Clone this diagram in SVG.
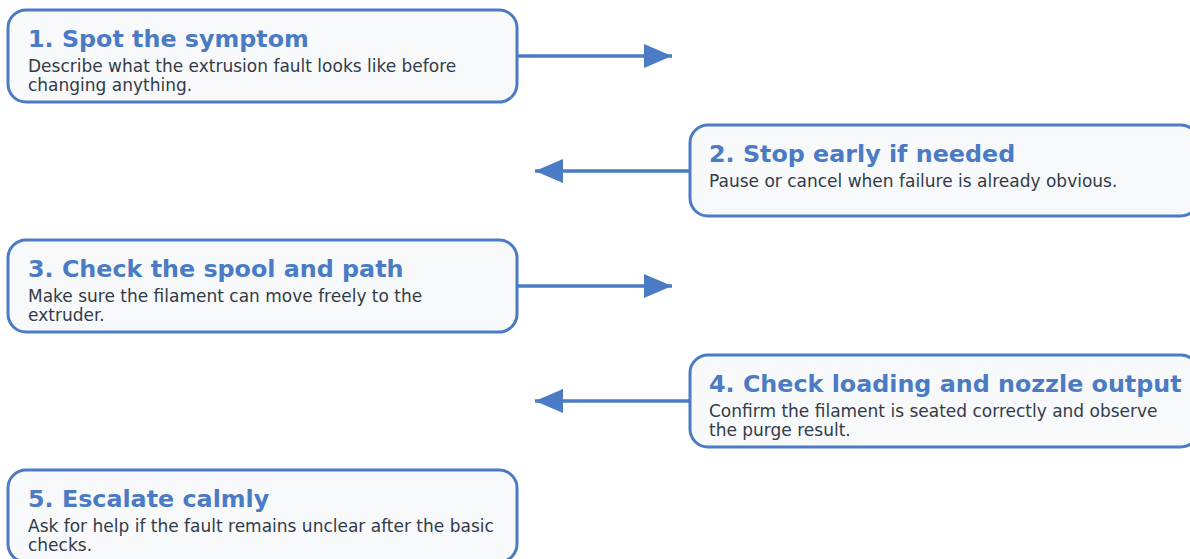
<svg xmlns="http://www.w3.org/2000/svg" width="1190" height="559" viewBox="0 0 1190 559">
<defs>
<style>
.box{fill:#f7f9fb;stroke:#4a7bc4;stroke-width:3}
.t{font-family:"DejaVu Sans",sans-serif;font-weight:bold;font-size:23.8px;fill:#4a7bc4}
.d{font-family:"DejaVu Sans",sans-serif;font-size:17px;fill:#333b47}
.c{stroke:#4a7bc4;stroke-width:3.5;fill:none}
</style>
<marker id="a" viewBox="0 0 28 24" refX="28" refY="12" markerWidth="28" markerHeight="24" markerUnits="userSpaceOnUse" orient="auto">
<path d="M0,0L28,12L0,24z" fill="#4a7bc4"/>
</marker>
</defs>
<rect width="1190" height="559" fill="#ffffff"/>
<g id="connectors">
<line class="c" x1="517" y1="56" x2="672" y2="56" marker-end="url(#a)"/>
<line class="c" x1="690" y1="171" x2="535" y2="171" marker-end="url(#a)"/>
<line class="c" x1="517" y1="286" x2="672" y2="286" marker-end="url(#a)"/>
<line class="c" x1="690" y1="401" x2="535" y2="401" marker-end="url(#a)"/>
</g>
<g id="node1">
<rect class="box" x="8" y="10" width="509" height="92" rx="18"/>
<text class="t" x="28" y="47">1. Spot the symptom</text>
<text class="d" x="28" y="72">Describe what the extrusion fault looks like before</text>
<text class="d" x="28" y="91">changing anything.</text>
</g>
<g id="node2">
<rect class="box" x="690" y="125" width="509" height="91" rx="18"/>
<text class="t" x="709" y="162">2. Stop early if needed</text>
<text class="d" x="709" y="187">Pause or cancel when failure is already obvious.</text>
</g>
<g id="node3">
<rect class="box" x="8" y="240" width="509" height="92" rx="18"/>
<text class="t" x="28" y="277">3. Check the spool and path</text>
<text class="d" x="28" y="302">Make sure the filament can move freely to the</text>
<text class="d" x="28" y="321">extruder.</text>
</g>
<g id="node4">
<rect class="box" x="690" y="355" width="509" height="92" rx="18"/>
<text class="t" x="709" y="392">4. Check loading and nozzle output</text>
<text class="d" x="709" y="417">Confirm the filament is seated correctly and observe</text>
<text class="d" x="709" y="436">the purge result.</text>
</g>
<g id="node5">
<rect class="box" x="8" y="470" width="509" height="92" rx="18"/>
<text class="t" x="28" y="507">5. Escalate calmly</text>
<text class="d" x="28" y="532">Ask for help if the fault remains unclear after the basic</text>
<text class="d" x="28" y="551">checks.</text>
</g>
</svg>
